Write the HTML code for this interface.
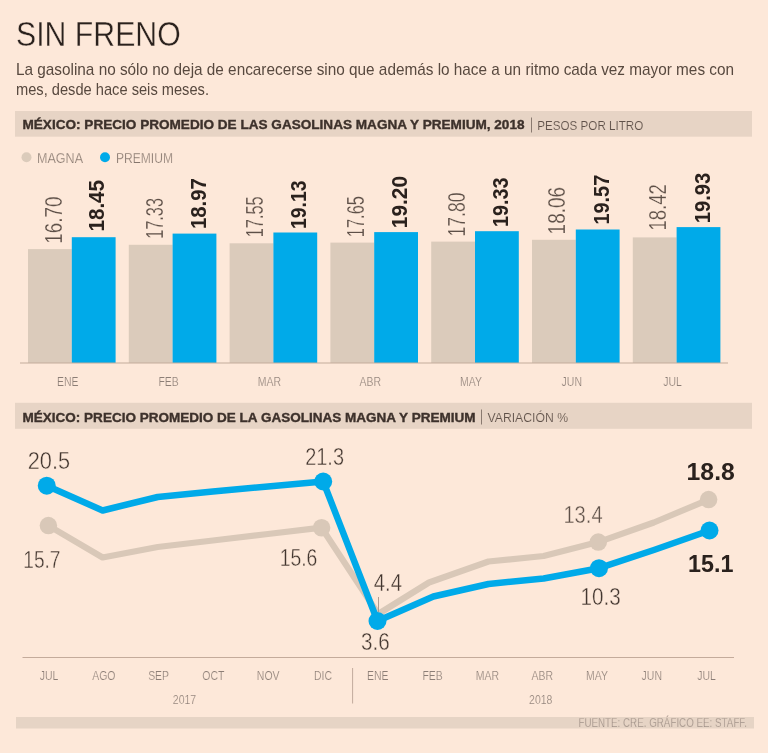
<!DOCTYPE html>
<html><head><meta charset="utf-8"><style>
html,body{margin:0;padding:0;background:#FDE8D9;width:768px;height:753px;overflow:hidden}
svg{display:block;will-change:transform}
text{font-family:"Liberation Sans",sans-serif}
</style></head><body>
<svg width="768" height="753" viewBox="0 0 768 753">
<rect width="768" height="753" fill="#FDE8D9"/>
<text x="16.00" y="45.70" font-size="35.00" fill="#2a211d" stroke="#FDE8D9" stroke-width="0.4" textLength="164.70" lengthAdjust="spacingAndGlyphs">SIN FRENO</text>
<text x="16.00" y="74.50" font-size="16.60" fill="#58493f" textLength="718.00" lengthAdjust="spacingAndGlyphs" text-anchor="start">La gasolina no sólo no deja de encarecerse sino que además lo hace a un ritmo cada vez mayor mes con</text>
<text x="16.00" y="94.50" font-size="16.60" fill="#58493f" textLength="193.00" lengthAdjust="spacingAndGlyphs" text-anchor="start">mes, desde hace seis meses.</text>
<rect x="15" y="111" width="737" height="25.7" fill="#E7D4C5"/>
<text x="22.50" y="129.30" font-size="12.40" fill="#3d312b" font-weight="bold" stroke="#3d312b" stroke-width="0.35" textLength="502.00" lengthAdjust="spacingAndGlyphs" text-anchor="start">MÉXICO: PRECIO PROMEDIO DE LAS GASOLINAS MAGNA Y PREMIUM, 2018</text>
<rect x="531" y="117.5" width="1" height="15" fill="#8a7a70"/>
<text x="537.30" y="129.70" font-size="13.50" fill="#5f5149" stroke="#E7D4C5" stroke-width="0.15" textLength="106.00" lengthAdjust="spacingAndGlyphs" text-anchor="start">PESOS POR LITRO</text>
<circle cx="26.5" cy="157.3" r="5" fill="#DBCBBB"/>
<text x="37.00" y="162.50" font-size="13.80" fill="#85766d" stroke="#FDE8D9" stroke-width="0.25" textLength="46.00" lengthAdjust="spacingAndGlyphs" text-anchor="start">MAGNA</text>
<circle cx="105" cy="157.3" r="5" fill="#00AAE9"/>
<text x="116.00" y="162.50" font-size="13.80" fill="#85766d" stroke="#FDE8D9" stroke-width="0.25" textLength="57.00" lengthAdjust="spacingAndGlyphs" text-anchor="start">PREMIUM</text>
<rect x="28.0" y="249.1" width="43.8" height="113.9" fill="#DBCBBB"/>
<rect x="71.8" y="237.2" width="43.8" height="125.8" fill="#00AAE9"/>
<text transform="translate(61.70,243.80) rotate(-90)" font-size="23.20" fill="#5e5048" stroke="#FDE8D9" stroke-width="0.2" textLength="47.20" lengthAdjust="spacingAndGlyphs">16.70</text>
<text transform="translate(104.10,231.60) rotate(-90)" font-size="22.20" fill="#2a211d" font-weight="bold" textLength="51.70" lengthAdjust="spacingAndGlyphs">18.45</text>
<text transform="translate(67.80,385.60) scale(0.86,1)" font-size="12.20" fill="#8c7e76" stroke="#FDE8D9" stroke-width="0.2" text-anchor="middle">ENE</text>
<rect x="128.8" y="244.8" width="43.8" height="118.2" fill="#DBCBBB"/>
<rect x="172.6" y="233.6" width="43.8" height="129.4" fill="#00AAE9"/>
<text transform="translate(162.50,238.80) rotate(-90)" font-size="23.20" fill="#5e5048" stroke="#FDE8D9" stroke-width="0.2" textLength="40.80" lengthAdjust="spacingAndGlyphs">17.33</text>
<text transform="translate(205.60,229.10) rotate(-90)" font-size="22.20" fill="#2a211d" font-weight="bold" textLength="51.00" lengthAdjust="spacingAndGlyphs">18.97</text>
<text transform="translate(168.60,385.60) scale(0.86,1)" font-size="12.20" fill="#8c7e76" stroke="#FDE8D9" stroke-width="0.2" text-anchor="middle">FEB</text>
<rect x="229.6" y="243.3" width="43.8" height="119.7" fill="#DBCBBB"/>
<rect x="273.4" y="232.5" width="43.8" height="130.5" fill="#00AAE9"/>
<text transform="translate(263.40,237.20) rotate(-90)" font-size="23.20" fill="#5e5048" stroke="#FDE8D9" stroke-width="0.2" textLength="40.80" lengthAdjust="spacingAndGlyphs">17.55</text>
<text transform="translate(306.10,228.90) rotate(-90)" font-size="22.20" fill="#2a211d" font-weight="bold" textLength="48.40" lengthAdjust="spacingAndGlyphs">19.13</text>
<text transform="translate(269.40,385.60) scale(0.86,1)" font-size="12.20" fill="#8c7e76" stroke="#FDE8D9" stroke-width="0.2" text-anchor="middle">MAR</text>
<rect x="330.4" y="242.6" width="43.8" height="120.4" fill="#DBCBBB"/>
<rect x="374.2" y="232.1" width="43.8" height="130.9" fill="#00AAE9"/>
<text transform="translate(364.10,237.20) rotate(-90)" font-size="23.20" fill="#5e5048" stroke="#FDE8D9" stroke-width="0.2" textLength="41.20" lengthAdjust="spacingAndGlyphs">17.65</text>
<text transform="translate(407.40,228.20) rotate(-90)" font-size="22.20" fill="#2a211d" font-weight="bold" textLength="52.30" lengthAdjust="spacingAndGlyphs">19.20</text>
<text transform="translate(370.20,385.60) scale(0.86,1)" font-size="12.20" fill="#8c7e76" stroke="#FDE8D9" stroke-width="0.2" text-anchor="middle">ABR</text>
<rect x="431.2" y="241.6" width="43.8" height="121.4" fill="#DBCBBB"/>
<rect x="475.0" y="231.2" width="43.8" height="131.8" fill="#00AAE9"/>
<text transform="translate(465.10,236.40) rotate(-90)" font-size="23.20" fill="#5e5048" stroke="#FDE8D9" stroke-width="0.2" textLength="43.80" lengthAdjust="spacingAndGlyphs">17.80</text>
<text transform="translate(508.00,226.90) rotate(-90)" font-size="22.20" fill="#2a211d" font-weight="bold" textLength="49.40" lengthAdjust="spacingAndGlyphs">19.33</text>
<text transform="translate(471.00,385.60) scale(0.86,1)" font-size="12.20" fill="#8c7e76" stroke="#FDE8D9" stroke-width="0.2" text-anchor="middle">MAY</text>
<rect x="532.0" y="239.8" width="43.8" height="123.2" fill="#DBCBBB"/>
<rect x="575.8" y="229.5" width="43.8" height="133.5" fill="#00AAE9"/>
<text transform="translate(565.40,234.40) rotate(-90)" font-size="23.20" fill="#5e5048" stroke="#FDE8D9" stroke-width="0.2" textLength="47.40" lengthAdjust="spacingAndGlyphs">18.06</text>
<text transform="translate(608.60,224.50) rotate(-90)" font-size="22.20" fill="#2a211d" font-weight="bold" textLength="49.70" lengthAdjust="spacingAndGlyphs">19.57</text>
<text transform="translate(571.80,385.60) scale(0.86,1)" font-size="12.20" fill="#8c7e76" stroke="#FDE8D9" stroke-width="0.2" text-anchor="middle">JUN</text>
<rect x="632.8" y="237.4" width="43.8" height="125.6" fill="#DBCBBB"/>
<rect x="676.6" y="227.1" width="43.8" height="135.9" fill="#00AAE9"/>
<text transform="translate(666.40,230.60) rotate(-90)" font-size="23.20" fill="#5e5048" stroke="#FDE8D9" stroke-width="0.2" textLength="46.40" lengthAdjust="spacingAndGlyphs">18.42</text>
<text transform="translate(710.00,223.30) rotate(-90)" font-size="22.20" fill="#2a211d" font-weight="bold" textLength="50.50" lengthAdjust="spacingAndGlyphs">19.93</text>
<text transform="translate(672.60,385.60) scale(0.86,1)" font-size="12.20" fill="#8c7e76" stroke="#FDE8D9" stroke-width="0.2" text-anchor="middle">JUL</text>
<rect x="20" y="362.5" width="708" height="1" fill="#C4AB9B"/>
<rect x="15" y="402.8" width="737" height="26" fill="#E7D4C5"/>
<text x="22.50" y="422.00" font-size="12.40" fill="#3d312b" font-weight="bold" stroke="#3d312b" stroke-width="0.35" textLength="453.00" lengthAdjust="spacingAndGlyphs" text-anchor="start">MÉXICO: PRECIO PROMEDIO DE LA GASOLINAS MAGNA Y PREMIUM</text>
<rect x="481" y="409.5" width="1" height="15" fill="#8a7a70"/>
<text x="487.50" y="422.00" font-size="13.50" fill="#5f5149" stroke="#E7D4C5" stroke-width="0.15" textLength="80.50" lengthAdjust="spacingAndGlyphs" text-anchor="start">VARIACIÓN %</text>
<path d="M48.40,525.60 L102.62,557.50 L157.75,547.00 L212.88,540.50 L268.00,534.00 L321.60,527.70 L378.25,614.00 L429.00,582.50 L488.50,561.50 L543.62,556.00 L598.30,542.10 L653.88,522.50 L708.60,499.60" fill="none" stroke="#D9C8B8" stroke-width="6.2" stroke-linejoin="round" stroke-linecap="round"/>
<circle cx="48.40" cy="525.6" r="8.75" fill="#D9C8B8"/>
<circle cx="321.60" cy="527.7" r="8.75" fill="#D9C8B8"/>
<circle cx="598.30" cy="542.1" r="8.75" fill="#D9C8B8"/>
<circle cx="708.60" cy="499.6" r="8.75" fill="#D9C8B8"/>
<rect x="378.1" y="597" width="0.9" height="15" fill="#a89489"/>
<path d="M46.75,485.70 L102.62,510.50 L157.75,497.00 L212.88,491.60 L268.00,486.50 L323.20,481.50 L377.50,621.00 L433.38,596.50 L488.50,584.00 L543.62,578.50 L599.00,568.20 L653.88,550.00 L709.50,530.50" fill="none" stroke="#00AAE9" stroke-width="6.5" stroke-linejoin="round" stroke-linecap="round"/>
<circle cx="46.75" cy="485.7" r="9" fill="#00AAE9"/>
<circle cx="323.20" cy="481.5" r="9" fill="#00AAE9"/>
<circle cx="377.50" cy="621" r="9" fill="#00AAE9"/>
<circle cx="599.00" cy="568.2" r="9" fill="#00AAE9"/>
<circle cx="709.50" cy="530.5" r="9" fill="#00AAE9"/>
<text x="27.75" y="469.20" font-size="23.50" fill="#43362f" stroke="#FDE8D9" stroke-width="0.4" textLength="42.35" lengthAdjust="spacingAndGlyphs">20.5</text>
<text x="23.30" y="568.00" font-size="23.50" fill="#43362f" stroke="#FDE8D9" stroke-width="0.4" textLength="37.20" lengthAdjust="spacingAndGlyphs">15.7</text>
<text x="305.20" y="464.80" font-size="23.50" fill="#43362f" stroke="#FDE8D9" stroke-width="0.4" textLength="38.80" lengthAdjust="spacingAndGlyphs">21.3</text>
<text x="279.70" y="566.40" font-size="23.50" fill="#43362f" stroke="#FDE8D9" stroke-width="0.4" textLength="37.70" lengthAdjust="spacingAndGlyphs">15.6</text>
<text x="373.80" y="591.00" font-size="23.50" fill="#43362f" stroke="#FDE8D9" stroke-width="0.4" textLength="28.10" lengthAdjust="spacingAndGlyphs">4.4</text>
<text x="361.00" y="650.10" font-size="23.50" fill="#43362f" stroke="#FDE8D9" stroke-width="0.4" textLength="28.70" lengthAdjust="spacingAndGlyphs">3.6</text>
<text x="563.40" y="523.00" font-size="23.50" fill="#5e5048" stroke="#FDE8D9" stroke-width="0.4" textLength="39.20" lengthAdjust="spacingAndGlyphs">13.4</text>
<text x="580.50" y="604.80" font-size="23.50" fill="#43362f" stroke="#FDE8D9" stroke-width="0.4" textLength="40.20" lengthAdjust="spacingAndGlyphs">10.3</text>
<text x="686.60" y="480.00" font-size="23.50" fill="#2a211d" font-weight="bold" textLength="48.20" lengthAdjust="spacingAndGlyphs">18.8</text>
<text x="688.00" y="572.40" font-size="23.50" fill="#2a211d" font-weight="bold" textLength="45.40" lengthAdjust="spacingAndGlyphs">15.1</text>
<rect x="22.5" y="657" width="711.5" height="1" fill="#C4AB9B"/>
<text transform="translate(49.00,680.00) scale(0.86,1)" font-size="12.20" fill="#8c7e76" stroke="#FDE8D9" stroke-width="0.2" text-anchor="middle">JUL</text>
<text transform="translate(103.80,680.00) scale(0.86,1)" font-size="12.20" fill="#8c7e76" stroke="#FDE8D9" stroke-width="0.2" text-anchor="middle">AGO</text>
<text transform="translate(158.60,680.00) scale(0.86,1)" font-size="12.20" fill="#8c7e76" stroke="#FDE8D9" stroke-width="0.2" text-anchor="middle">SEP</text>
<text transform="translate(213.40,680.00) scale(0.86,1)" font-size="12.20" fill="#8c7e76" stroke="#FDE8D9" stroke-width="0.2" text-anchor="middle">OCT</text>
<text transform="translate(268.20,680.00) scale(0.86,1)" font-size="12.20" fill="#8c7e76" stroke="#FDE8D9" stroke-width="0.2" text-anchor="middle">NOV</text>
<text transform="translate(323.00,680.00) scale(0.86,1)" font-size="12.20" fill="#8c7e76" stroke="#FDE8D9" stroke-width="0.2" text-anchor="middle">DIC</text>
<text transform="translate(377.80,680.00) scale(0.86,1)" font-size="12.20" fill="#8c7e76" stroke="#FDE8D9" stroke-width="0.2" text-anchor="middle">ENE</text>
<text transform="translate(432.60,680.00) scale(0.86,1)" font-size="12.20" fill="#8c7e76" stroke="#FDE8D9" stroke-width="0.2" text-anchor="middle">FEB</text>
<text transform="translate(487.40,680.00) scale(0.86,1)" font-size="12.20" fill="#8c7e76" stroke="#FDE8D9" stroke-width="0.2" text-anchor="middle">MAR</text>
<text transform="translate(542.20,680.00) scale(0.86,1)" font-size="12.20" fill="#8c7e76" stroke="#FDE8D9" stroke-width="0.2" text-anchor="middle">ABR</text>
<text transform="translate(597.00,680.00) scale(0.86,1)" font-size="12.20" fill="#8c7e76" stroke="#FDE8D9" stroke-width="0.2" text-anchor="middle">MAY</text>
<text transform="translate(651.80,680.00) scale(0.86,1)" font-size="12.20" fill="#8c7e76" stroke="#FDE8D9" stroke-width="0.2" text-anchor="middle">JUN</text>
<text transform="translate(706.60,680.00) scale(0.86,1)" font-size="12.20" fill="#8c7e76" stroke="#FDE8D9" stroke-width="0.2" text-anchor="middle">JUL</text>
<rect x="352" y="668" width="1.1" height="35.5" fill="#c7b0a2"/>
<text transform="translate(184.50,703.50) scale(0.86,1)" font-size="12.20" fill="#8c7e76" stroke="#FDE8D9" stroke-width="0.2" text-anchor="middle">2017</text>
<text transform="translate(540.75,703.50) scale(0.86,1)" font-size="12.20" fill="#8c7e76" stroke="#FDE8D9" stroke-width="0.2" text-anchor="middle">2018</text>
<rect x="16" y="717" width="738" height="11.5" fill="#E6D4C5"/>
<text x="578.40" y="727.30" font-size="12.00" fill="#9b8c83" stroke="#E6D4C5" stroke-width="0.25" textLength="168.60" lengthAdjust="spacingAndGlyphs" text-anchor="start">FUENTE: CRE. GRÁFICO EE: STAFF.</text>
</svg>
</body></html>
